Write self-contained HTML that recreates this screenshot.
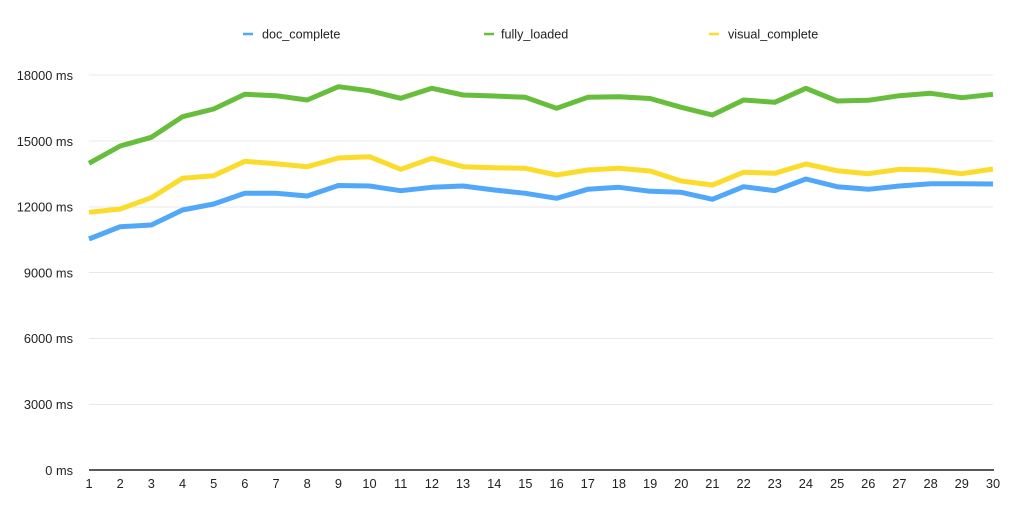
<!DOCTYPE html>
<html>
<head>
<meta charset="utf-8">
<style>
html,body{margin:0;padding:0;background:#fff;}
svg{display:block;}
text{font-family:"Liberation Sans",Arial,Helvetica,sans-serif;fill:#222;}
</style>
</head>
<body>
<svg width="1022" height="512" viewBox="0 0 1022 512" xmlns="http://www.w3.org/2000/svg">
<rect width="1022" height="512" fill="#fff"/>
<!-- legend -->
<g font-size="12.6">
<line x1="243" y1="34" x2="253" y2="34" stroke="#51a8f8" stroke-width="2.5"/>
<text x="262" y="38.5">doc_complete</text>
<line x1="484" y1="34" x2="494" y2="34" stroke="#67bd3c" stroke-width="2.5"/>
<text x="501" y="38.5">fully_loaded</text>
<line x1="709" y1="34" x2="719" y2="34" stroke="#fbdc2c" stroke-width="2.5"/>
<text x="728" y="38.5">visual_complete</text>
</g>
<!-- gridlines -->
<g stroke="#e8e8e8" stroke-width="1">
<line x1="89" y1="75" x2="993" y2="75"/>
<line x1="89" y1="141" x2="993" y2="141"/>
<line x1="89" y1="207" x2="993" y2="207"/>
<line x1="89" y1="272.5" x2="993" y2="272.5"/>
<line x1="89" y1="338.5" x2="993" y2="338.5"/>
<line x1="89" y1="404.5" x2="993" y2="404.5"/>
</g>
<line x1="89" y1="470" x2="994" y2="470" stroke="#222" stroke-width="1.6"/>
<!-- y labels -->
<g font-size="12.8" text-anchor="end">
<text x="73" y="80">18000 ms</text>
<text x="73" y="146">15000 ms</text>
<text x="73" y="211.5">12000 ms</text>
<text x="73" y="277.5">9000 ms</text>
<text x="73" y="343">6000 ms</text>
<text x="73" y="409">3000 ms</text>
<text x="73" y="475">0 ms</text>
</g>
<!-- x labels -->
<g font-size="12.8" text-anchor="middle">
<text x="89" y="488">1</text>
<text x="120.2" y="488">2</text>
<text x="151.3" y="488">3</text>
<text x="182.5" y="488">4</text>
<text x="213.7" y="488">5</text>
<text x="244.8" y="488">6</text>
<text x="276" y="488">7</text>
<text x="307.2" y="488">8</text>
<text x="338.4" y="488">9</text>
<text x="369.5" y="488">10</text>
<text x="400.7" y="488">11</text>
<text x="431.9" y="488">12</text>
<text x="463" y="488">13</text>
<text x="494.2" y="488">14</text>
<text x="525.4" y="488">15</text>
<text x="556.6" y="488">16</text>
<text x="587.7" y="488">17</text>
<text x="618.9" y="488">18</text>
<text x="650.1" y="488">19</text>
<text x="681.2" y="488">20</text>
<text x="712.4" y="488">21</text>
<text x="743.6" y="488">22</text>
<text x="774.8" y="488">23</text>
<text x="805.9" y="488">24</text>
<text x="837.1" y="488">25</text>
<text x="868.3" y="488">26</text>
<text x="899.4" y="488">27</text>
<text x="930.6" y="488">28</text>
<text x="961.8" y="488">29</text>
<text x="993" y="488">30</text>
</g>
<!-- series -->
<g fill="none" stroke-width="5" stroke-linejoin="round" stroke-linecap="butt">
<polyline stroke="#51a8f8" points="89,239 120.2,226.7 151.3,225 182.5,210 213.7,204 244.8,193.3 276,193.3 307.2,196 338.4,185.5 369.5,186 400.7,190.7 431.9,187.3 463,186 494.2,190 525.4,193.3 556.6,198.3 587.7,189.3 618.9,187.3 650.1,191.3 681.2,192.3 712.4,199.3 743.6,186.7 774.8,190.7 805.9,179 837.1,186.7 868.3,189.3 899.4,186 930.6,183.7 961.8,183.7 993,184"/>
<polyline stroke="#fbdc2c" points="89,212.3 120.2,209 151.3,197.7 182.5,178.3 213.7,175.7 244.8,161.3 276,163.7 307.2,166.7 338.4,158 369.5,156.7 400.7,169.3 431.9,158.3 463,166.7 494.2,167.7 525.4,168.3 556.6,175 587.7,170 618.9,168.3 650.1,171 681.2,181 712.4,185 743.6,172.3 774.8,173.3 805.9,164 837.1,170.7 868.3,173.7 899.4,169.3 930.6,170 961.8,173.7 993,169"/>
<polyline stroke="#67bd3c" points="89,163.3 120.2,146 151.3,137.3 182.5,116.7 213.7,109 244.8,94.3 276,95.7 307.2,100 338.4,86.7 369.5,90.7 400.7,98.3 431.9,88.3 463,95 494.2,96 525.4,97.3 556.6,108.3 587.7,97.3 618.9,96.7 650.1,98.5 681.2,107.3 712.4,115 743.6,100 774.8,102.3 805.9,88.3 837.1,101 868.3,100.3 899.4,95.7 930.6,93.3 961.8,97.7 993,94.3"/>
</g>
</svg>
</body>
</html>
